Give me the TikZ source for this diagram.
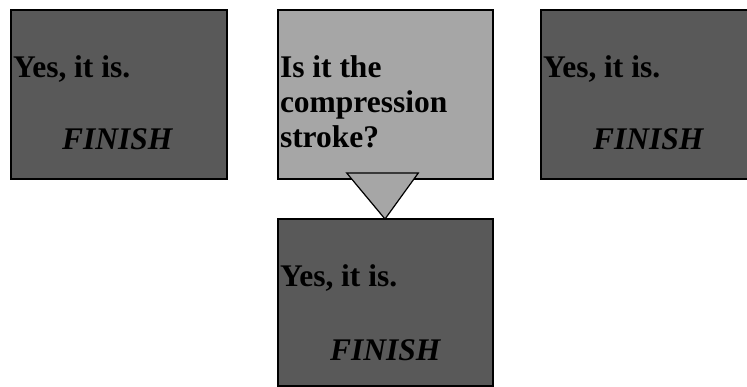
\documentclass[tikz,border=0pt]{standalone}
\usepackage{fontspec}
\setmainfont{Liberation Serif}
\definecolor{darkbox}{HTML}{595959}
\definecolor{lightbox}{HTML}{A6A6A6}
\tikzset{
  box/.style={draw=black, line width=1.2pt, inner sep=0pt, outer sep=0pt,
    anchor=north west, minimum width=216pt, minimum height=169pt},
  txt/.style={inner sep=0pt, outer sep=0pt, anchor=base west, text=black,
    font=\fontsize{31.5}{35}\selectfont\bfseries},
  itxt/.style={txt, font=\fontsize{31.5}{35}\selectfont\bfseries\itshape},
  tri/.style={draw=black, line width=1.2pt, fill=lightbox, line join=miter}
}
\begin{document}
\begin{tikzpicture}[x=1pt,y=-1pt]
\useasboundingbox (0,0) rectangle (747,387);
\clip (0,0) rectangle (747,387);
% boxes
\node[box, fill=darkbox] (L) at (11,10) {};
\node[box, fill=lightbox, minimum width=215pt] (Q) at (278,10) {};
\node[box, fill=darkbox] (R) at (541,10) {};
\node[box, fill=darkbox, minimum width=215pt, minimum height=167pt] (B) at (278,219) {};
% texts
\node[txt] (Ly) at ([xshift=2pt,yshift=-68pt]L.north west) {Yes, it is.};
\node[itxt] (Lf) at ([xshift=51pt,yshift=-140pt]L.north west) {FINISH};
\node[txt] (Ry) at ([xshift=2pt,yshift=-68pt]R.north west) {Yes, it is.};
\node[itxt] (Rf) at ([xshift=52pt,yshift=-140pt]R.north west) {FINISH};
\node[txt] (Q1) at ([xshift=2pt,yshift=-68pt]Q.north west) {Is it the};
\node[txt] (Q2) at ([xshift=2pt,yshift=-103pt]Q.north west) {compression};
\node[txt] (Q3) at ([xshift=2pt,yshift=-138pt]Q.north west) {stroke?};
\node[txt] (By) at ([xshift=2pt,yshift=-68pt]B.north west) {Yes, it is.};
\node[itxt] (Bf) at ([xshift=52pt,yshift=-141pt]B.north west) {FINISH};
% triangle connector
\draw[tri] ([xshift=-38.8pt,yshift=6pt]Q.south) -- ([xshift=32.8pt,yshift=6pt]Q.south)
  -- ([xshift=-0.5pt]B.north) -- cycle;
\end{tikzpicture}
\end{document}
